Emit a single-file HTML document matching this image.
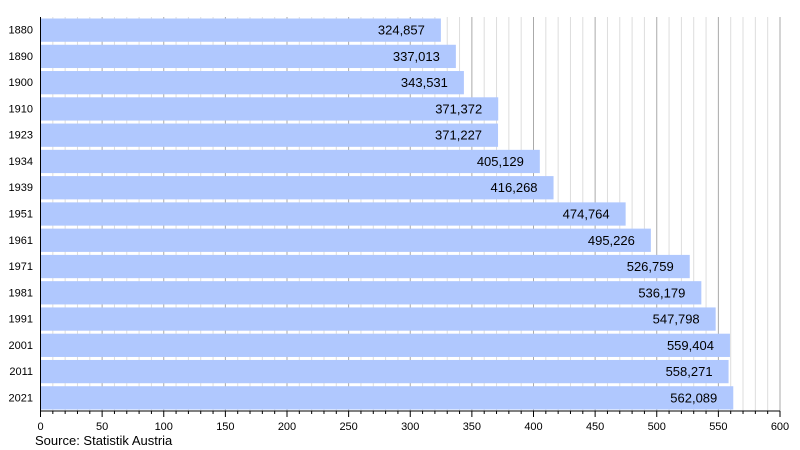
<!DOCTYPE html>
<html><head><meta charset="utf-8"><style>
html,body{margin:0;padding:0;background:#fff;}
svg{display:block;font-family:"Liberation Sans",sans-serif;}
</style></head><body>
<svg id="c" width="800" height="450" xmlns="http://www.w3.org/2000/svg"></svg>
<script>
(function(){
var s=document.getElementById('c');
var data=[["1880",324857],["1890",337013],["1900",343531],["1910",371372],["1923",371227],["1934",405129],["1939",416268],["1951",474764],["1961",495226],["1971",526759],["1981",536179],["1991",547798],["2001",559404],["2011",558271],["2021",562089]];
var X0=40.5,K=1.2325,T=17,B=411,ST=(B-T)/15;
function fmt(n){return String(n).replace(/\B(?=(\d{3})+(?!\d))/g,",");}
var h='';
for(var v=0;v<=600;v+=10){var x=X0+v*K;var maj=v%50==0;
 if(v>0)h+='<line x1="'+x+'" y1="'+T+'" x2="'+x+'" y2="'+B+'" stroke="'+(maj?'#aaa':'#ddd')+'" stroke-width="1"/>';
 h+='<line x1="'+x+'" y1="'+B+'" x2="'+x+'" y2="'+(B+(maj?6:3))+'" stroke="#000" stroke-width="1"/>';
 if(maj)h+='<text x="'+x+'" y="'+(B+19)+'" font-size="11" text-anchor="middle">'+v+'</text>';}
data.forEach(function(d,i){var y=T+i*ST+1.5;var w=d[1]/1000*K;
 h+='<rect x="'+X0+'" y="'+y+'" width="'+w+'" height="'+(ST-3)+'" fill="#b0c8fe"/>';
 h+='<text x="'+(X0+w-16)+'" y="'+(y+ST/2+3)+'" font-size="13" text-anchor="end" fill="#000">'+fmt(d[1])+'</text>';
 h+='<text x="33" y="'+(y+ST/2+2)+'" font-size="11" text-anchor="end">'+d[0]+'</text>';});
h+='<line x1="'+X0+'" y1="'+T+'" x2="'+X0+'" y2="'+(B+6)+'" stroke="#000"/>';
h+='<line x1="'+X0+'" y1="'+B+'" x2="'+(X0+600*K)+'" y2="'+B+'" stroke="#000"/>';
h+='<text x="35" y="445" font-size="13">Source: Statistik Austria</text>';
s.innerHTML=h;
})();
</script>
</body></html>
